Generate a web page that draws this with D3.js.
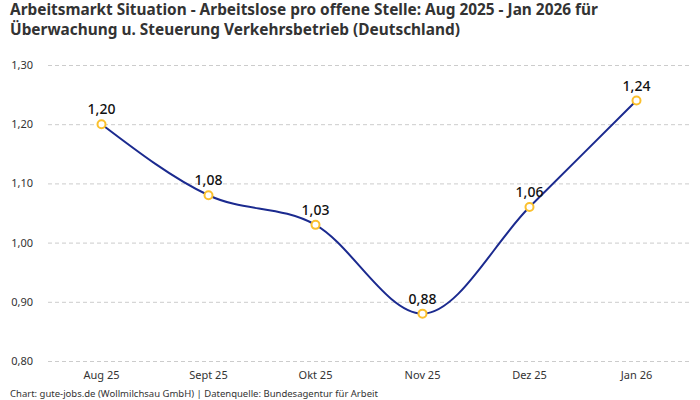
<!DOCTYPE html>
<html>
<head>
<meta charset="utf-8">
<script src="https://cdn.jsdelivr.net/npm/d3@7"></script>
<style>
  body { margin: 0; background: #fff; }
  svg { font-family: "Noto Sans", sans-serif; }
</style>
</head>
<body>
<div id="chart"></div>
<script>
const months = ['Aug 25', 'Sept 25', 'Okt 25', 'Nov 25', 'Dez 25', 'Jan 26'];
const ratio = [1.20, 1.08, 1.03, 0.88, 1.06, 1.24];
const yTicks = [0.8, 0.9, 1.0, 1.1, 1.2, 1.3];
const titleLines = [
    'Arbeitsmarkt Situation - Arbeitslose pro offene Stelle: Aug 2025 - Jan 2026 für',
    'Überwachung u. Steuerung Verkehrsbetrieb (Deutschland)'
];
const footer = 'Chart: gute-jobs.de (Wollmilchsau GmbH) | Datenquelle: Bundesagentur für Arbeit';

const width = 700;
const height = 400;
const fmt = v => d3.format('.2f')(v).replace('.', ',');

const svg = d3.select('#chart').append('svg')
    .attr('width', width)
    .attr('height', height)
    .attr('viewBox', [0, 0, width, height]);

const x = d3.scaleBand().domain(months).range([48, 690]);
const y = d3.scaleLinear().domain([0.8, 1.3]).range([361, 65]);

svg.append('g')
    .selectAll('text')
    .data(titleLines)
    .join('text')
    .attr('x', 10)
    .attr('y', (d, i) => 15 + i * 20)
    .attr('font-size', 15.4)
    .attr('font-weight', 700)
    .attr('fill', '#333')
    .text(d => d);

// grid + y labels
const yAxis = svg.append('g')
    .attr('transform', 'translate(48,0)')
    .call(d3.axisLeft(y).tickValues(yTicks).tickFormat(fmt).tickSize(-642).tickPadding(15));
yAxis.select('.domain').remove();
yAxis.selectAll('line')
    .attr('stroke', '#ccc')
    .attr('stroke-dasharray', '4,3');
yAxis.selectAll('text')
    .attr('font-size', 11)
    .attr('fill', '#333')
    .attr('font-family', '"Noto Sans", sans-serif');

const xAxis = svg.append('g')
    .attr('transform', 'translate(0,361)')
    .call(d3.axisBottom(x).tickSize(0).tickPadding(10));
xAxis.select('.domain').remove();
xAxis.selectAll('text')
    .attr('font-size', 11)
    .attr('fill', '#333')
    .attr('font-family', '"Noto Sans", sans-serif');

const cx = d => x(d) + x.bandwidth() / 2;

const line = d3.line()
    .x((d, i) => cx(months[i]))
    .y(d => y(d))
    .curve(d3.curveMonotoneX);

svg.append('path')
    .datum(ratio)
    .attr('fill', 'none')
    .attr('stroke', '#1b2a8f')
    .attr('stroke-width', 2)
    .attr('d', line);

svg.append('g')
    .selectAll('circle')
    .data(ratio)
    .join('circle')
    .attr('cx', (d, i) => cx(months[i]))
    .attr('cy', d => y(d))
    .attr('r', 4)
    .attr('fill', '#fff')
    .attr('stroke', '#fbc02d')
    .attr('stroke-width', 2);

svg.append('g')
    .selectAll('text')
    .data(ratio)
    .join('text')
    .attr('x', (d, i) => cx(months[i]))
    .attr('y', d => y(d) - 10)
    .attr('text-anchor', 'middle')
    .attr('font-size', 14)
    .attr('font-weight', 500)
    .attr('fill', '#111')
    .text(fmt);

svg.append('text')
    .attr('x', 10)
    .attr('y', 397)
    .attr('font-size', 9.5)
    .attr('fill', '#333')
    .text(footer);
</script>
</body>
</html>
